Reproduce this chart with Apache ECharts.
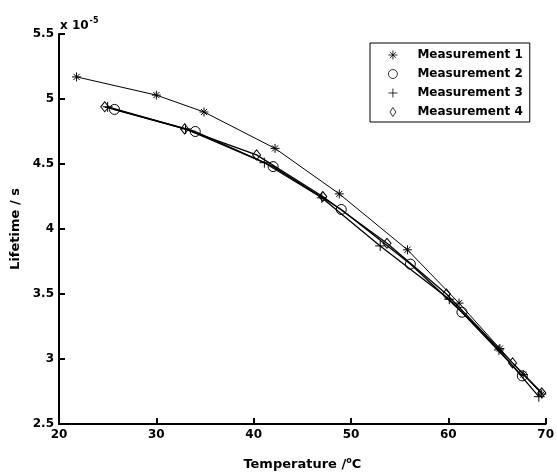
<!DOCTYPE html>
<html>
<head>
<meta charset="utf-8">
<script src="https://cdn.jsdelivr.net/npm/echarts@6/dist/echarts.min.js"></script>
<style>html,body{margin:0;padding:0;background:#fff}#c{width:557px;height:476px}</style>
</head>
<body>
<div id="c"></div>
<script>
// Lifetime in units of 1e-5 s vs temperature in °C
const m1 = [[21.8,5.17],[30.0,5.03],[34.9,4.90],[42.2,4.62],[48.8,4.27],[55.8,3.84],[61.1,3.43],[65.3,3.08],[67.7,2.88],[69.6,2.73]];
const m2 = [[25.7,4.92],[34.0,4.75],[42.0,4.48],[49.0,4.15],[56.1,3.73],[61.4,3.36],[67.6,2.87]];
const m3 = [[25.0,4.94],[33.0,4.77],[41.1,4.51],[47.0,4.24],[53.0,3.87],[60.1,3.46],[65.2,3.07],[69.3,2.71]];
const m4 = [[24.7,4.94],[32.9,4.77],[40.3,4.57],[47.1,4.25],[53.7,3.89],[59.8,3.50],[66.6,2.97],[69.6,2.74]];
const names = ['Measurement 1','Measurement 2','Measurement 3','Measurement 4'];
const xTicks = {min:20, max:70, interval:10};
const yTicks = {min:2.5, max:5.5, interval:0.5};

const STAR = 'path://M5,0L5,10M0,5L10,5M1.6,1.6L8.4,8.4M1.6,8.4L8.4,1.6';
const PLUS = 'path://M5,0L5,10M0,5L10,5';
const CIRC = 'circle';
const DIAM = 'path://M5,0L9,6L5,12L1,6Z';
const symbols = [STAR, CIRC, PLUS, DIAM];
const sizes = [9, 10, 10, [8,10]];
const widths = [1, 1.3, 1.3, 1.3];
const datasets = [m1, m2, m3, m4];

const font = 'DejaVu Sans, sans-serif';
const chart = echarts.init(document.getElementById('c'), null, {renderer:'canvas'});
chart.setOption({
  animation:false,
  backgroundColor:'#fff',
  grid:{left:59, right:9, top:34, bottom:49},
  xAxis:{type:'value', min:xTicks.min, max:xTicks.max, interval:xTicks.interval,
    name:'Temperature /{s|o}C', nameLocation:'middle', nameGap:33,
    nameTextStyle:{color:'#000', fontFamily:font, fontWeight:'bold', fontSize:13,
      rich:{s:{fontSize:8, fontWeight:'bold', fontFamily:font, verticalAlign:'top', padding:[0,0,7,0]}}},
    axisLine:{lineStyle:{color:'#000', width:2}},
    axisTick:{inside:true, length:6, lineStyle:{color:'#000', width:2}},
    axisLabel:{color:'#000', fontFamily:font, fontWeight:'bold', fontSize:12, margin:5},
    splitLine:{show:false}},
  yAxis:{type:'value', min:yTicks.min, max:yTicks.max, interval:yTicks.interval,
    name:'Lifetime / s', nameLocation:'middle', nameGap:35,
    nameTextStyle:{color:'#000', fontFamily:font, fontWeight:'bold', fontSize:13},
    axisLine:{show:true, lineStyle:{color:'#000', width:2}},
    axisTick:{show:true, inside:true, length:6, lineStyle:{color:'#000', width:2}},
    axisLabel:{color:'#000', fontFamily:font, fontWeight:'bold', fontSize:12, margin:5},
    splitLine:{show:false}},
  legend:{orient:'vertical', left:370, top:43, itemWidth:9, itemHeight:9, itemGap:5,
    padding:[5,7,3,18], borderColor:'#000', borderWidth:1, backgroundColor:'#fff',
    itemStyle:{color:'rgba(0,0,0,0)', borderColor:'#000', borderWidth:0.8},
    textStyle:{color:'#000', fontFamily:font, fontWeight:'bold', fontSize:12, lineHeight:14, padding:[0,0,0,15]},
    data:names.map((n,i)=>({name:n, icon:symbols[i]}))},
  graphic:[{type:'text', left:60, top:17,
    style:{text:'x 10{s|-5}', fill:'#000', font:'bold 12px '+font,
      rich:{s:{fontSize:8, fontWeight:'bold', fontFamily:font, verticalAlign:'top', padding:[0,0,9,1]}}}}],
  series:datasets.map((d,i)=>({
    name:names[i], type:'line', data:d, symbol:symbols[i], symbolSize:sizes[i],
    showAllSymbol:true, z:2+i,
    lineStyle:{color:'#000', width:widths[i]},
    itemStyle:{color:'rgba(0,0,0,0)', borderColor:'#000', borderWidth:1}
  }))
});
</script>
</body>
</html>
